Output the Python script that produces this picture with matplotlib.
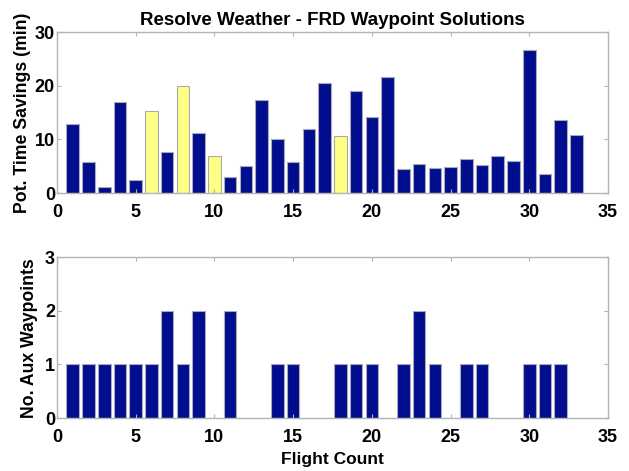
import numpy as np
import matplotlib
matplotlib.use("Agg")
import matplotlib.pyplot as plt

# flight number for each bar
flights = list(range(1, 34))
# potential time savings (min)
savings = [12.8, 5.7, 1.05, 17.0, 2.5, 15.4, 7.7, 20.0, 11.2, 7.0, 3.0, 5.1,
           17.3, 10.0, 5.8, 12.0, 20.6, 10.7, 19.0, 14.2, 21.6, 4.4, 5.5, 4.7,
           4.9, 6.4, 5.2, 7.0, 6.0, 26.7, 3.55, 13.7, 10.8]
# flights drawn in yellow on the top panel
highlight = [6, 8, 10, 18]
# number of auxiliary waypoints, bottom panel
aux_wp = [1, 1, 1, 1, 1, 1, 2, 1, 2, 0, 2, 0, 0, 1, 1, 0, 0, 1, 1, 1, 0, 1,
          2, 1, 0, 1, 1, 0, 0, 1, 1, 1, 0]

BLUE = "#000e8e"
YELLOW = "#ffff84"
EDGE = "#a8a8b8"
SPINE = "#b4b4b4"

plt.rcParams["font.family"] = ["Liberation Sans", "DejaVu Sans"]
plt.rcParams["font.weight"] = "bold"

fig = plt.figure(figsize=(6.29, 4.71), dpi=100)
ax1 = fig.add_axes([0.0906, 0.5902, 0.876, 0.341])
ax2 = fig.add_axes([0.0906, 0.1125, 0.876, 0.341])

cols = [YELLOW if f in highlight else BLUE for f in flights]
ax1.bar(flights, savings, width=0.8, color=cols, edgecolor=EDGE, linewidth=0.8)
ax2.bar(flights, aux_wp, width=0.8, color=BLUE, edgecolor=EDGE, linewidth=0.8)

ax1.set_ylim(0, 30)
ax1.set_yticks([0, 10, 20, 30])
ax2.set_ylim(0, 3)
ax2.set_yticks([0, 1, 2, 3])

for ax in (ax1, ax2):
    ax.set_xlim(0, 35)
    ax.set_xticks(range(0, 36, 5))
    ax.tick_params(direction="in", length=3, width=0.8, color=SPINE,
                   top=True, right=True, labelsize=13)
    ax.tick_params(axis="x", pad=8)
    ax.tick_params(axis="y", pad=1.5)
    for s in ax.spines.values():
        s.set_color(SPINE)
        s.set_linewidth(1.0)
    for lab in ax.get_xticklabels() + ax.get_yticklabels():
        lab.set_fontweight("bold")

ax1.set_title("Resolve Weather - FRD Waypoint Solutions", fontsize=13.5,
              fontweight="bold", pad=5)
ax1.set_ylabel("Pot. Time Savings (min)", fontsize=12.7, fontweight="bold", labelpad=3)
ax2.set_ylabel("No. Aux Waypoints", fontsize=12.7, fontweight="bold", labelpad=5)
ax2.set_xlabel("Flight Count", fontsize=12.5, fontweight="bold", labelpad=4.5)

fig.savefig("out.png", dpi=100)
